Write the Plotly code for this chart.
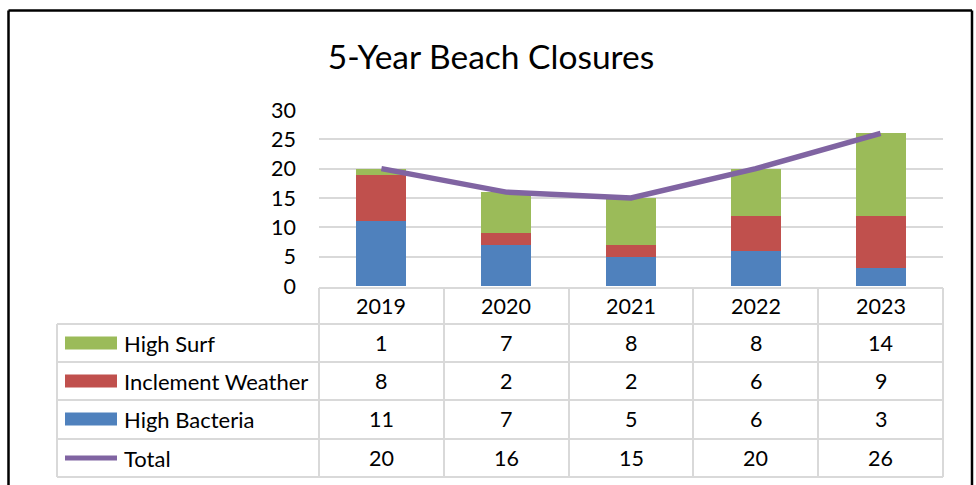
import plotly.graph_objects as go

years = ["2019", "2020", "2021", "2022", "2023"]
high_surf = [1, 7, 8, 8, 14]
inclement_weather = [8, 2, 2, 6, 9]
high_bacteria = [11, 7, 5, 6, 3]
total = [20, 16, 15, 20, 26]
y_ticks = [0, 5, 10, 15, 20, 25, 30]

W, H = 976, 485
FONT = "Lato"
GRID = "#d9d9d9"
TXT = 21.5

def px(x):
    return x / W

def py(y):
    return 1 - y / H

fig = go.Figure()
fig.add_trace(go.Bar(x=years, y=high_bacteria, name="High Bacteria", marker=dict(color="#4F81BD", line_width=0), width=0.4))
fig.add_trace(go.Bar(x=years, y=inclement_weather, name="Inclement Weather", marker=dict(color="#C0504D", line_width=0), width=0.4))
fig.add_trace(go.Bar(x=years, y=high_surf, name="High Surf", marker=dict(color="#9BBB59", line_width=0), width=0.4))
fig.add_trace(go.Scatter(x=years, y=total, name="Total", mode="lines", line=dict(color="#8064A2", width=5.5)))

shapes = []
# outer border (left, top, right edges)
for (x0, y0, x1, y1) in [(8.5, 10.5, 972, 10.5), (8.5, 10.5, 8.5, 485), (972, 10.5, 972, 485)]:
    shapes.append(dict(type="line", xref="paper", yref="paper", x0=px(x0), x1=px(x1), y0=py(y0), y1=py(y1),
                       line=dict(color="black", width=2.5)))
# table lines
col_edges = [319, 444, 569, 693, 818, 943]
row_edges = [324, 362, 400, 439, 477]
shapes.append(dict(type="line", xref="paper", yref="paper", x0=px(319), x1=px(943), y0=py(288), y1=py(288),
                   line=dict(color=GRID, width=2)))
for ry in row_edges:
    shapes.append(dict(type="line", xref="paper", yref="paper", x0=px(57), x1=px(943), y0=py(ry), y1=py(ry),
                       line=dict(color=GRID, width=2)))
for cx in col_edges:
    shapes.append(dict(type="line", xref="paper", yref="paper", x0=px(cx), x1=px(cx), y0=py(288), y1=py(477),
                       line=dict(color=GRID, width=2)))
shapes.append(dict(type="line", xref="paper", yref="paper", x0=px(57), x1=px(57), y0=py(324), y1=py(477),
                   line=dict(color=GRID, width=2)))

annotations = []
for i, yr in enumerate(years):
    annotations.append(dict(x=i, xref="x", y=py(306), yref="paper", text=yr, showarrow=False,
                            font=dict(family=FONT, size=TXT, color="black"), xanchor="center", yanchor="middle"))
rows = [
    ("High Surf", high_surf, "#9BBB59", 343, 13),
    ("Inclement Weather", inclement_weather, "#C0504D", 381, 13),
    ("High Bacteria", high_bacteria, "#4F81BD", 419, 13),
    ("Total", total, "#8064A2", 458, 5),
]
for name, vals, color, cy, kh in rows:
    shapes.append(dict(type="rect", xref="paper", yref="paper", x0=px(65), x1=px(117),
                       y0=py(cy + kh / 2), y1=py(cy - kh / 2), fillcolor=color, line_width=0))
    annotations.append(dict(x=px(122), xref="paper", y=py(cy), yref="paper", text=name, showarrow=False,
                            font=dict(family=FONT, size=TXT + 0.5, color="black"), xanchor="left", yanchor="middle"))
    for i, v in enumerate(vals):
        annotations.append(dict(x=i, xref="x", y=py(cy), yref="paper", text=str(v), showarrow=False,
                                font=dict(family=FONT, size=TXT, color="black"), xanchor="center", yanchor="middle"))

fig.update_layout(
    width=W, height=H,
    margin=dict(l=0, r=0, t=0, b=0, pad=0, autoexpand=False),
    paper_bgcolor="white", plot_bgcolor="white",
    barmode="stack",
    showlegend=False,
    title=dict(text="5-Year Beach Closures", x=px(491), xanchor="center", y=py(57), yanchor="middle",
               font=dict(family=FONT, size=33.5, color="black")),
    xaxis=dict(type="category", domain=[px(319), px(943)], range=[-0.5, 4.5], showticklabels=False,
               showgrid=False, zeroline=False, showline=False, ticks="", automargin=False),
    yaxis=dict(domain=[py(286), py(110)], range=[0, 30], tickvals=y_ticks, showgrid=True, gridcolor=GRID,
               gridwidth=2, zeroline=False, showline=False, ticks="", ticklabelstandoff=22, automargin=False,
               tickfont=dict(family=FONT, size=TXT, color="black")),
    shapes=shapes,
    annotations=annotations,
)

fig.write_html("out.html", config={"displayModeBar": False},
               post_script="document.body.style.margin='0';document.body.style.overflow='hidden';")
